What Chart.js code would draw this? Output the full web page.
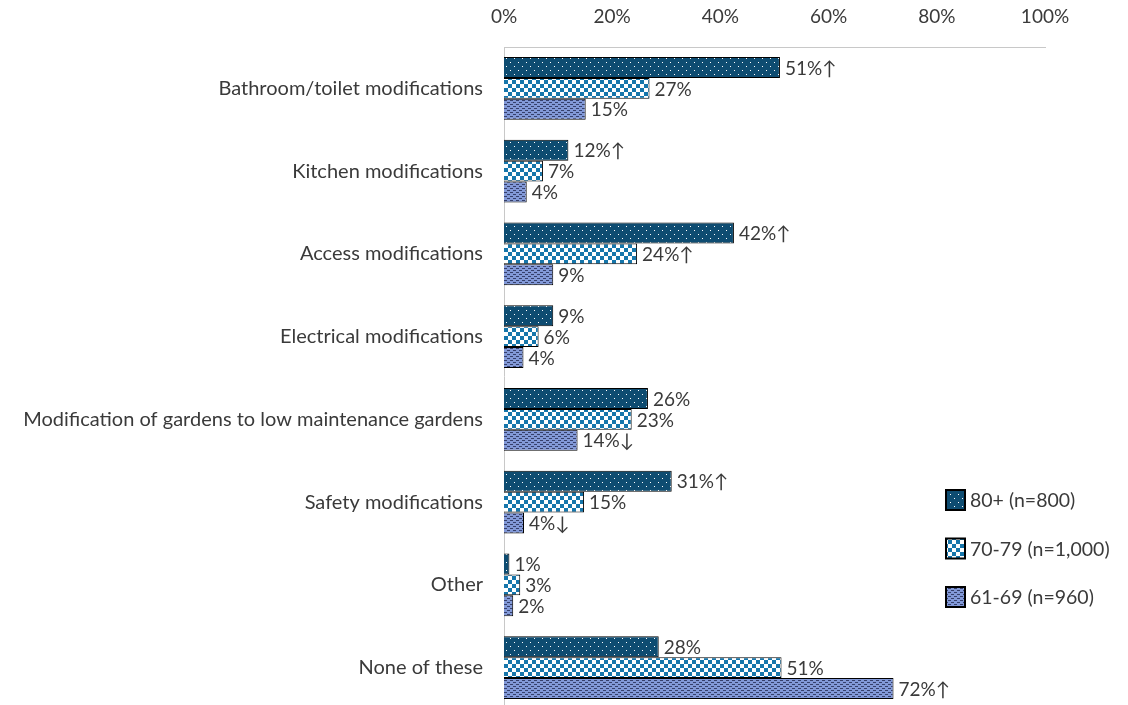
<!DOCTYPE html>
<html>
<head>
<meta charset="utf-8">
<script src="https://cdn.jsdelivr.net/npm/chart.js@4.4.0/dist/chart.umd.min.js"></script>
<style>
html,body{margin:0;padding:0;background:#fff;}
#wrap{width:1128px;height:705px;position:relative;}
</style>
</head>
<body>
<div id="wrap"><canvas id="c" width="1128" height="705"></canvas></div>
<script>
const categories = [
  'Bathroom/toilet modifications',
  'Kitchen modifications',
  'Access modifications',
  'Electrical modifications',
  'Modification of gardens to low maintenance gardens',
  'Safety modifications',
  'Other',
  'None of these'
];
const seriesNames = ['80+ (n=800)', '70-79 (n=1,000)', '61-69 (n=960)'];
const values80 = [51, 11.9, 42.5, 9.1, 26.6, 31, 1, 28.6];
const values70 = [26.9, 7.2, 24.6, 6.4, 23.6, 14.8, 3, 51.3];
const values61 = [15.1, 4.2, 9.1, 3.6, 13.6, 3.7, 1.7, 72];
const labels80 = ['51%\u2191', '12%\u2191', '42%\u2191', '9%', '26%', '31%\u2191', '1%', '28%'];
const labels70 = ['27%', '7%', '24%\u2191', '6%', '23%', '15%', '3%', '51%'];
const labels61 = ['15%', '4%', '9%', '4%', '14%\u2193', '4%\u2193', '2%', '72%\u2191'];
const xTicks = [0, 20, 40, 60, 80, 100];

function makePattern(w, h, draw) {
  const c = document.createElement('canvas');
  c.width = w; c.height = h;
  const g = c.getContext('2d');
  draw(g);
  return document.getElementById('c').getContext('2d').createPattern(c, 'repeat');
}
const patDots = makePattern(8, 8, g => {
  g.fillStyle = '#0E4C71'; g.fillRect(0, 0, 8, 8);
  g.fillStyle = '#ffffff'; g.fillRect(2, 2, 1, 1); g.fillRect(6, 6, 1, 1);
});
const patChecker = makePattern(8, 8, g => {
  g.fillStyle = '#ffffff'; g.fillRect(0, 0, 8, 8);
  g.fillStyle = '#1676AB'; g.fillRect(0, 0, 4, 4); g.fillRect(4, 4, 4, 4);
});
const patDash = makePattern(6, 4, g => {
  g.fillStyle = '#8299D8'; g.fillRect(0, 0, 6, 4);
  g.fillStyle = '#36406C'; g.fillRect(0, 0, 3, 1); g.fillRect(3, 2, 3, 1);
});

const FONT = "Lato, 'DejaVu Sans', sans-serif";
const TEXT = '#3a3a3a';

// the plot area of the original runs slightly past the bottom edge of the image
const extendBottom = {
  id: 'extendBottom',
  afterLayout(chart) {
    const y = chart.scales.y;
    const newBottom = 709;
    y.bottom = newBottom;
    y.height = newBottom - y.top;
    y.configure();
    chart.chartArea.bottom = newBottom;
    chart.chartArea.height = newBottom - chart.chartArea.top;
  }
};

const valueLabels = {
  id: 'valueLabels',
  afterDatasetsDraw(chart) {
    const ctx = chart.ctx;
    const lbls = [labels80, labels70, labels61];
    ctx.save();
    ctx.font = "19px " + FONT;
    ctx.fillStyle = TEXT;
    ctx.textBaseline = 'middle';
    ctx.textAlign = 'left';
    chart.data.datasets.forEach((ds, di) => {
      const meta = chart.getDatasetMeta(di);
      meta.data.forEach((bar, i) => {
        ctx.fillText(lbls[di][i], bar.x + 5, bar.y + 1);
      });
    });
    ctx.restore();
  }
};

const customLegend = {
  id: 'customLegend',
  afterDraw(chart) {
    const ctx = chart.ctx;
    const ca = chart.chartArea;
    const x0 = ca.left + 442;
    const yStart = 500;
    const gap = 48.5;
    ctx.save();
    ctx.font = "19.5px " + FONT;
    ctx.textBaseline = 'middle';
    chart.data.datasets.forEach((ds, i) => {
      const y = yStart + i * gap;
      ctx.fillStyle = ds.backgroundColor;
      ctx.fillRect(x0, y - 10, 19, 20);
      ctx.lineWidth = 2;
      ctx.strokeStyle = '#000';
      ctx.strokeRect(x0, y - 10, 19, 20);
      ctx.fillStyle = TEXT;
      ctx.fillText(ds.label, x0 + 24, y + 1);
    });
    ctx.restore();
  }
};

new Chart(document.getElementById('c'), {
  type: 'bar',
  data: {
    labels: categories,
    datasets: [
      { label: seriesNames[0], data: values80, backgroundColor: patDots, borderColor: '#000', borderWidth: 1 },
      { label: seriesNames[1], data: values70, backgroundColor: patChecker, borderColor: '#000', borderWidth: 1 },
      { label: seriesNames[2], data: values61, backgroundColor: patDash, borderColor: '#000', borderWidth: 1 }
    ]
  },
  options: {
    indexAxis: 'y',
    responsive: false,
    animation: false,
    layout: { padding: { left: 0, right: 83, top: 0, bottom: 0 } },
    datasets: { bar: { categoryPercentage: 0.76, barPercentage: 1.0 } },
    plugins: { legend: { display: false }, tooltip: { enabled: false } },
    scales: {
      x: {
        position: 'top',
        min: 0, max: 100,
        afterBuildTicks(s) { s.ticks = xTicks.map(v => ({ value: v })); },
        afterFit(s) { s.height = 47; },
        grid: { display: false, drawTicks: false },
        border: { display: true, color: '#C8C8C8', width: 1 },
        ticks: { padding: 19, color: TEXT, font: { size: 19, family: FONT }, callback: v => v + '%' }
      },
      y: {
        afterFit(s) { s.width = 504; s.paddingTop = 0; s.paddingBottom = 0; },
        grid: { display: false, drawTicks: false },
        border: { display: true, color: '#C8C8C8', width: 1 },
        ticks: { padding: 21, color: TEXT, font: { size: 20, family: FONT } }
      }
    }
  },
  plugins: [extendBottom, valueLabels, customLegend]
});
</script>
</body>
</html>
